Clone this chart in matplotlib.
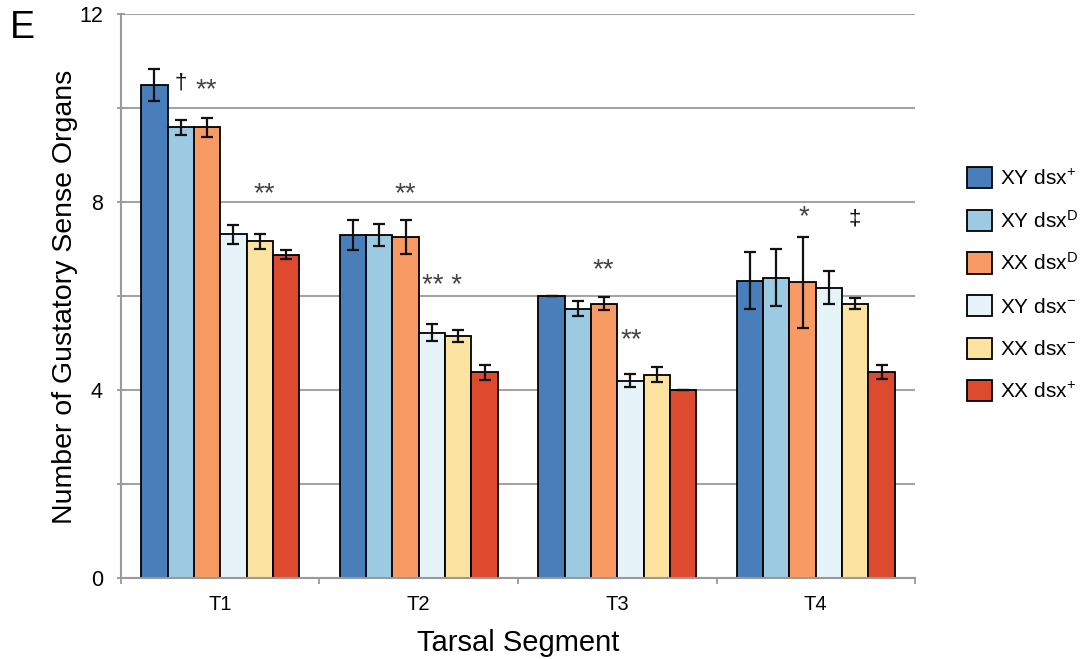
import matplotlib
matplotlib.use("Agg")
import matplotlib.pyplot as plt
import numpy as np
from matplotlib.ticker import FixedLocator, NullFormatter

plt.rcParams['font.family'] = ['Liberation Sans', 'DejaVu Sans']
plt.rcParams['mathtext.fontset'] = 'custom'
plt.rcParams['mathtext.rm'] = 'Liberation Sans'
plt.rcParams['mathtext.it'] = 'Liberation Sans:italic'
plt.rcParams['mathtext.bf'] = 'Liberation Sans:bold'

# ---------------- data ----------------
segments = ['T1', 'T2', 'T3', 'T4']
genotype_labels = [r'XY dsx$^{+}$', r'XY dsx$^{\mathrm{D}}$', r'XX dsx$^{\mathrm{D}}$',
                   r'XY dsx$^{-}$', r'XX dsx$^{-}$', r'XX dsx$^{+}$']
colors = ['#4A7EBB', '#9DCAE3', '#F89A63', '#E6F3F8', '#FDE3A0', '#DD4A2E']

xy_dsx_plus = [10.49, 7.31, 6.00, 6.34]
xy_dsx_D = [9.60, 7.31, 5.74, 6.40]
xx_dsx_D = [9.60, 7.27, 5.85, 6.30]
xy_dsx_minus = [7.32, 5.23, 4.21, 6.19]
xx_dsx_minus = [7.17, 5.16, 4.34, 5.85]
xx_dsx_plus = [6.89, 4.39, 4.00, 4.40]

xy_dsx_plus_err = [0.34, 0.32, 0.00, 0.61]
xy_dsx_D_err = [0.16, 0.24, 0.16, 0.61]
xx_dsx_D_err = [0.20, 0.36, 0.13, 0.97]
xy_dsx_minus_err = [0.20, 0.18, 0.14, 0.35]
xx_dsx_minus_err = [0.15, 0.12, 0.16, 0.11]
xx_dsx_plus_err = [0.10, 0.16, 0.00, 0.15]

means = [xy_dsx_plus, xy_dsx_D, xx_dsx_D, xy_dsx_minus, xx_dsx_minus, xx_dsx_plus]
errs = [xy_dsx_plus_err, xy_dsx_D_err, xx_dsx_D_err, xy_dsx_minus_err,
        xx_dsx_minus_err, xx_dsx_plus_err]

# significance marks: text, segment index, offset within segment, y (visual centre)
sig_text = ['†', '**', '**', '**', '** *', '**', '**', '*', '‡']
sig_seg = [0, 0, 0, 1, 1, 2, 2, 3, 3]
sig_off = [-0.20, -0.07, 0.22, -0.066, 0.116, -0.073, 0.073, -0.06, 0.197]
sig_y = [10.56, 10.50, 8.28, 8.28, 6.32, 6.66, 5.17, 7.79, 7.67]

# ---------------- figure ----------------
fig = plt.figure(figsize=(10.82, 6.59), dpi=100)
ax = fig.add_axes([0.1118, 0.1222, 0.8457 - 0.1118, 0.9780 - 0.1222])

x = np.arange(len(segments))
w = 0.1325
for i, (m, e, c, lab) in enumerate(zip(means, errs, colors, genotype_labels)):
    pos = x + (i - 2.5) * w
    ax.bar(pos, m, width=w, color=c, edgecolor='black', linewidth=1.3,
           label=lab, zorder=2)
    ax.errorbar(pos, m, yerr=e, fmt='none', ecolor='#111111', elinewidth=1.6,
                capsize=4.5, capthick=1.6, zorder=3)

ax.set_xlim(-0.5, 3.5)
ax.set_ylim(0, 12)

# grid + axes styling
ax.set_axisbelow(True)
ax.yaxis.set_major_locator(FixedLocator([0, 4, 8, 12]))
ax.yaxis.set_minor_locator(FixedLocator([2, 6, 10]))
ax.yaxis.set_minor_formatter(NullFormatter())
ax.grid(axis='y', which='both', color='#A3A3A3', linewidth=1.5, zorder=0)
for s in ['top', 'right']:
    ax.spines[s].set_visible(False)
for s in ['left', 'bottom']:
    ax.spines[s].set_color('#9A9A9A')
    ax.spines[s].set_linewidth(1.5)

ax.tick_params(axis='y', which='both', direction='inout', length=6, width=1.3,
               color='#9A9A9A', labelsize=15.5, pad=10)
ax.set_xticks(x)
ax.set_xticklabels(segments)
ax.xaxis.set_minor_locator(FixedLocator([-0.5, 0.5, 1.5, 2.5, 3.5]))
ax.tick_params(axis='x', which='major', length=0, labelsize=14.5, pad=12)
ax.tick_params(axis='x', which='minor', direction='out', length=4, width=1.3,
               color='#9A9A9A')

ax.set_xlabel('Tarsal Segment', fontsize=21, labelpad=11)
ax.set_ylabel('Number of Gustatory Sense Organs', fontsize=20.5, labelpad=1)

# significance annotations
for t, sg, off, yy in zip(sig_text, sig_seg, sig_off, sig_y):
    if '*' in t:
        fs, dy, col = 20, 8.5, '#444444'
    else:
        fs, dy, col = 16, 4.5, '#111111'
    ax.annotate(t, xy=(sg + off, yy), xytext=(0, -dy), textcoords='offset points',
                ha='center', va='baseline', fontsize=fs, color=col, zorder=4)

# legend
leg = fig.legend(loc='center left', bbox_to_anchor=(0.8857, 0.5685),
                 bbox_transform=fig.transFigure, frameon=False, fontsize=15,
                 handlelength=1.2, handleheight=1.2, labelspacing=1.0,
                 handletextpad=0.42, borderaxespad=0.0)

fig.text(22 / 1082, 1 - 28 / 659, 'E', fontsize=27, ha='center', va='center')

fig.savefig('out.png', dpi=100)
